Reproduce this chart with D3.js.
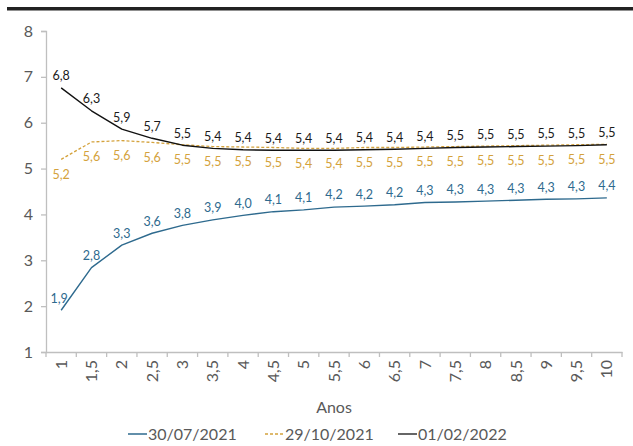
<!DOCTYPE html>
<html><head><meta charset="utf-8">
<script src="https://cdn.jsdelivr.net/npm/d3@7"></script>
<style>body{margin:0;background:#fff;} svg{display:block;font-family:Lato,"Open Sans",sans-serif;}</style>
</head><body><svg id="c" width="633" height="446"></svg>
<script>
const categories = ["1","1,5","2","2,5","3","3,5","4","4,5","5","5,5","6","6,5","7","7,5","8","8,5","9","9,5","10"];
const yTicks = [1,2,3,4,5,6,7,8];
const seriesNames = ["30/07/2021","29/10/2021","01/02/2022"];
const serie1 = [1.91,2.84,3.33,3.59,3.76,3.88,3.98,4.06,4.10,4.16,4.18,4.21,4.26,4.27,4.29,4.31,4.33,4.34,4.36];
const serie2 = [5.20,5.58,5.61,5.57,5.52,5.48,5.47,5.46,5.44,5.44,5.46,5.46,5.47,5.48,5.49,5.50,5.51,5.52,5.53];
const serie3 = [6.76,6.26,5.86,5.66,5.51,5.44,5.41,5.40,5.40,5.40,5.41,5.42,5.44,5.46,5.47,5.48,5.49,5.50,5.52];
const colors = ["#2e6a8e","#d4a23c","#111111"];
const labelColors = ["#2e6a8e","#d4a23c","#1a1a1a"];

const svg = d3.select("#c");
const L = 46, R = 622, T = 31, B = 352;
const x = d3.scaleBand().domain(categories).range([L, R]);
const y = d3.scaleLinear().domain([1, 8]).range([B, T]);
const axisColor = "#bfbfbf", textColor = "#595959";

// top bar
svg.append("rect").attr("x", 7).attr("y", 7).attr("width", 626).attr("height", 3.5).attr("fill", "#222");

// y axis
const ya = svg.append("g").attr("transform", `translate(${L},0)`)
  .call(d3.axisLeft(y).tickValues(yTicks).tickSize(5).tickFormat(d3.format("d")));
ya.select(".domain").attr("stroke", axisColor).attr("stroke-width", 1.3);
ya.selectAll(".tick line").attr("stroke", axisColor).attr("stroke-width", 1.3);
ya.selectAll(".tick text").attr("fill", textColor).attr("font-size", 16).attr("x", -13)
  .attr("font-family", "Lato,'Open Sans',sans-serif");

// x axis
const xa = svg.append("g").attr("transform", `translate(0,${B})`)
  .call(d3.axisBottom(x).tickSize(0).tickSizeOuter(0));
xa.select(".domain").attr("stroke", axisColor).attr("stroke-width", 1.3);
xa.selectAll(".tick text").attr("fill", textColor).attr("font-size", 16)
  .attr("font-family", "Lato,'Open Sans',sans-serif")
  .attr("transform", "rotate(-90)").attr("text-anchor", "end").attr("dy", "0.35em")
  .attr("x", -8).attr("y", 0);
// boundary ticks
const bounds = categories.map(c => x(c)).concat([x(categories[categories.length-1]) + x.bandwidth()]);
svg.append("g").selectAll("line").data(bounds).join("line")
  .attr("x1", d => d).attr("x2", d => d).attr("y1", B).attr("y2", B + 5)
  .attr("stroke", axisColor).attr("stroke-width", 1.3);

const cx = c => x(c) + x.bandwidth() / 2;
const series = [serie1, serie2, serie3];
const line = d3.line().x((d, i) => cx(categories[i])).y(d => y(d));

series.forEach((s, k) => {
  svg.append("path").datum(s).attr("d", line).attr("fill", "none")
    .attr("stroke", colors[k]).attr("stroke-width", k === 1 ? 1.3 : 1.4)
    .attr("stroke-linejoin", "round")
    .attr("stroke-dasharray", k === 1 ? "3,2" : null);
});

// data labels
const fmt = v => v.toFixed(1).replace(".", ",");
const offsets = [-12, 15, -12];
series.forEach((s, k) => {
  svg.append("g").selectAll("text").data(s).join("text")
    .attr("x", (d, i) => cx(categories[i]) + (k === 0 && i === 0 ? -2 : 0))
    .attr("y", d => y(d) + offsets[k])
    .attr("dy", "0.35em").attr("text-anchor", "middle")
    .attr("font-size", 12.5).attr("fill", labelColors[k]).text(fmt);
});

// axis title
svg.append("text").attr("x", (L + R) / 2).attr("y", 413).attr("text-anchor", "middle")
  .attr("font-size", 16).attr("fill", textColor).text("Anos");

// legend
const legX = [128, 265, 398];
seriesNames.forEach((n, k) => {
  const g = svg.append("g").attr("transform", `translate(${legX[k]},434)`);
  g.append("line").attr("x1", 0).attr("x2", 19).attr("y1", 0).attr("y2", 0)
    .attr("stroke", k === 2 ? "#333" : colors[k]).attr("stroke-width", 1.5)
    .attr("stroke-dasharray", k === 1 ? "3,2" : null);
  g.append("text").attr("x", 20).attr("y", 0).attr("dy", "0.35em")
    .attr("font-size", 16).attr("fill", textColor).text(n);
});
</script></body></html>
